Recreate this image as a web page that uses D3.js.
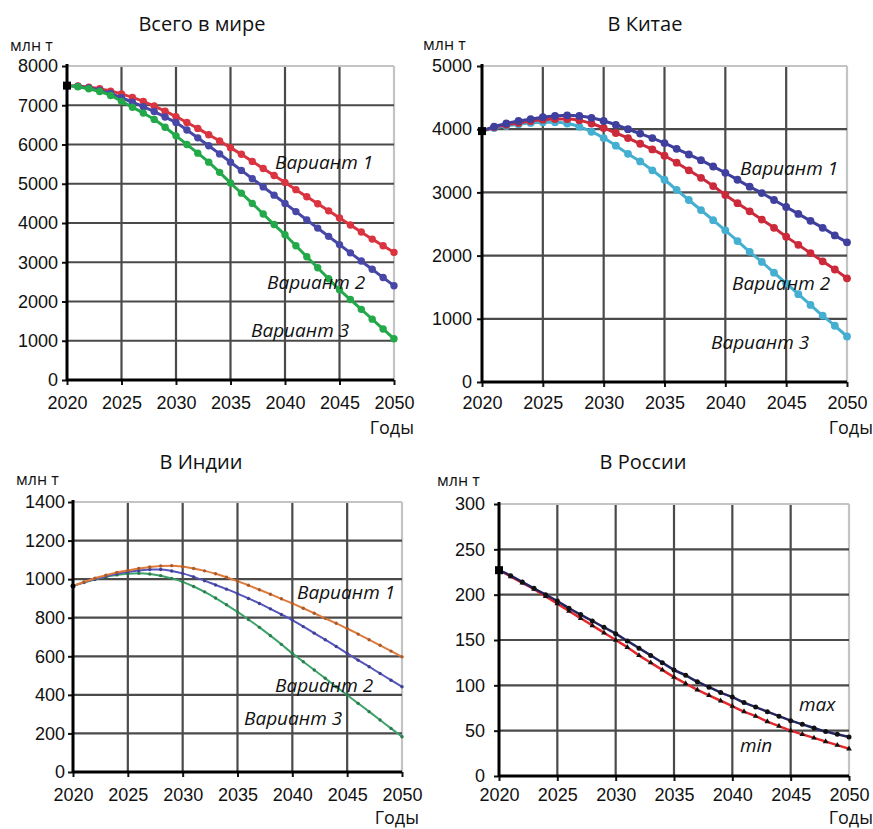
<!DOCTYPE html>
<html>
<head>
<meta charset="utf-8">
<script src="https://cdn.jsdelivr.net/npm/d3@7"></script>
<style>
  body { margin: 0; background: #fff; }
  svg { display: block; font-family: "Open Sans", "Noto Sans", sans-serif; }
  .tick text { font-size: 18px; fill: #111; }
</style>
</head>
<body>
<svg id="chart" width="873" height="829"></svg>
<script>
// years shared by every panel
const years = d3.range(2020, 2051);
const yearTicks = [2020, 2025, 2030, 2035, 2040, 2045, 2050];

// Всего в мире
const worldV1 = [7500, 7490, 7460, 7420, 7360, 7290, 7200, 7100, 6980, 6850, 6710, 6560, 6410, 6250, 6090, 5920, 5750, 5570, 5390, 5210, 5030, 4850, 4670, 4490, 4310, 4130, 3950, 3770, 3590, 3420, 3250];
const worldV2 = [7500, 7480, 7440, 7380, 7300, 7190, 7080, 6960, 6840, 6700, 6560, 6370, 6170, 5970, 5760, 5550, 5340, 5130, 4920, 4710, 4500, 4290, 4080, 3870, 3660, 3450, 3240, 3030, 2820, 2610, 2400];
const worldV3 = [7500, 7470, 7420, 7350, 7250, 7100, 6950, 6800, 6640, 6440, 6220, 6000, 5780, 5550, 5290, 5020, 4760, 4500, 4230, 3960, 3700, 3420, 3140, 2860, 2580, 2300, 2050, 1800, 1550, 1300, 1050];

// В Китае
const chinaV1 = [3970, 4040, 4090, 4130, 4160, 4190, 4210, 4220, 4210, 4180, 4130, 4070, 4000, 3930, 3860, 3780, 3690, 3600, 3510, 3410, 3310, 3200, 3090, 2990, 2880, 2770, 2660, 2550, 2440, 2320, 2210];
const chinaV2 = [3970, 4030, 4070, 4100, 4130, 4150, 4160, 4160, 4140, 4090, 4020, 3940, 3860, 3770, 3680, 3580, 3470, 3350, 3230, 3100, 2960, 2830, 2700, 2570, 2440, 2300, 2170, 2040, 1910, 1780, 1640];
const chinaV3 = [3970, 4020, 4050, 4080, 4100, 4110, 4110, 4090, 4040, 3960, 3860, 3740, 3610, 3490, 3350, 3200, 3040, 2880, 2720, 2560, 2400, 2230, 2060, 1900, 1730, 1560, 1390, 1220, 1050, 890, 720];

// В Индии
const indiaV1 = [965, 985, 1005, 1020, 1035, 1045, 1055, 1063, 1068, 1070, 1065, 1055, 1043, 1028, 1010, 990, 968, 945, 922, 898, 874, 849, 823, 797, 771, 744, 715, 686, 657, 627, 597];
const indiaV2 = [965, 983, 1000, 1015, 1028, 1038, 1045, 1050, 1050, 1042, 1030, 1012, 992, 970, 948, 925, 900, 874, 846, 817, 788, 754, 720, 686, 651, 615, 580, 546, 511, 476, 442];
const indiaV3 = [965, 982, 998, 1012, 1022, 1028, 1030, 1027, 1018, 1004, 986, 962, 934, 902, 867, 830, 791, 750, 707, 662, 615, 572, 529, 486, 442, 399, 356, 313, 270, 226, 183];

// В России
const russiaMax = [227, 221, 214, 207, 200, 193, 185, 178, 171, 164, 157, 149, 141, 133, 125, 117, 111, 104, 98, 92, 87, 81, 76, 71, 66, 61, 57, 53, 49, 46, 43];
const russiaMin = [227, 220, 213, 206, 198, 190, 182, 174, 166, 158, 150, 142, 133, 125, 117, 109, 102, 95, 89, 83, 77, 71, 66, 60, 55, 50, 46, 42, 38, 34, 30];

const worldTicks = d3.range(0, 8001, 1000);
const chinaTicks = d3.range(0, 5001, 1000);
const indiaTicks = d3.range(0, 1401, 200);
const russiaTicks = d3.range(0, 301, 50);

const panels = [
  {
    title: 'Всего в мире', titleX: 202, titleY: 31,
    unitX: 10, unitY: 51, yearsX: 414, yearsY: 434,
    box: [67, 394, 66, 380], yTicks: worldTicks, start: 'square',
    yPad: 4, yearBase: 409,
    series: [
      { values: worldV1, color: '#d9343f', label: 'Вариант 1', lx: 275, ly: 169 },
      { values: worldV2, color: '#4747a8', label: 'Вариант 2', lx: 267, ly: 289 },
      { values: worldV3, color: '#23a84a', label: 'Вариант 3', lx: 251, ly: 337 }
    ],
    width: 3, r: 3.7, marker: 'circle'
  },
  {
    title: 'В Китае', titleX: 645, titleY: 31,
    unitX: 423, unitY: 50, yearsX: 873, yearsY: 434,
    box: [482, 847, 66, 382], yTicks: chinaTicks, start: 'square',
    yPad: 5, yearBase: 409,
    series: [
      { values: chinaV3, color: '#45afd2', label: 'Вариант 3', lx: 711, ly: 349 },
      { values: chinaV2, color: '#cc2a3b', label: 'Вариант 2', lx: 732, ly: 290 },
      { values: chinaV1, color: '#3f3f9e', label: 'Вариант 1', lx: 740, ly: 175 }
    ],
    width: 3, r: 3.9, marker: 'circle'
  },
  {
    title: 'В Индии', titleX: 201, titleY: 469,
    unitX: 16, unitY: 485, yearsX: 419, yearsY: 824,
    box: [73, 402, 502, 772], yTicks: indiaTicks, start: 'dot',
    yPad: 3, yearBase: 801,
    series: [
      { values: indiaV3, color: '#3ea36a', label: 'Вариант 3', lx: 244, ly: 725 },
      { values: indiaV2, color: '#5555bd', label: 'Вариант 2', lx: 275, ly: 692 },
      { values: indiaV1, color: '#e07b3c', label: 'Вариант 1', lx: 297, ly: 599 }
    ],
    width: 2, r: 1.7, marker: 'circle', darkDots: true
  },
  {
    title: 'В России', titleX: 643, titleY: 469,
    unitX: 437, unitY: 486, yearsX: 873, yearsY: 824,
    box: [499, 849, 504, 776], yTicks: russiaTicks, start: 'square',
    yPad: 9, yearBase: 801,
    series: [
      { values: russiaMin, color: '#e3282e', label: 'min', lx: 740, ly: 752, marker: 'triangle' },
      { values: russiaMax, color: '#23235e', label: 'max', lx: 799, ly: 711, marker: 'circle' }
    ],
    width: 2.5, r: 2.5, marker: 'circle', markerColor: '#111'
  }
];

const svg = d3.select('#chart');

panels.forEach(p => {
  const [left, right, top, bottom] = p.box;
  const x = d3.scaleLinear().domain([2020, 2050]).range([left, right]);
  const y = d3.scaleLinear().domain([0, d3.max(p.yTicks)]).range([bottom, top]);
  const g = svg.append('g');

  // grid
  g.selectAll('line.vgrid')
    .data(yearTicks.slice(1))
    .enter().append('line')
    .attr('x1', d => x(d)).attr('x2', d => x(d))
    .attr('y1', top).attr('y2', bottom)
    .attr('stroke', d => d === 2050 ? '#c4c4c4' : '#4a4a4a')
    .attr('stroke-width', 2.2);
  g.selectAll('line.hgrid')
    .data(p.yTicks.slice(1))
    .enter().append('line')
    .attr('x1', left).attr('x2', right)
    .attr('y1', d => y(d)).attr('y2', d => y(d))
    .attr('stroke', (d, i, a) => i === a.length - 1 ? '#c4c4c4' : '#4a4a4a')
    .attr('stroke-width', 2.2);

  // axes
  const ax = g.append('g')
    .attr('transform', `translate(${left},0)`)
    .call(d3.axisLeft(y).tickValues(p.yTicks).tickSize(5).tickPadding(p.yPad).tickFormat(d3.format('d')));
  const bx = g.append('g')
    .attr('transform', `translate(0,${bottom})`)
    .call(d3.axisBottom(x).tickValues(yearTicks).tickSize(5).tickFormat(d3.format('d')));
  [ax, bx].forEach(a => {
    a.select('.domain').remove();
    a.selectAll('.tick line').attr('stroke', '#111').attr('stroke-width', 2);
  });
  bx.selectAll('.tick text').attr('y', p.yearBase - bottom).attr('dy', 0);
  g.append('line').attr('x1', left).attr('x2', left).attr('y1', top - 2).attr('y2', bottom + 1)
    .attr('stroke', '#000').attr('stroke-width', 3);
  g.append('line').attr('x1', left).attr('x2', right).attr('y1', bottom).attr('y2', bottom)
    .attr('stroke', '#000').attr('stroke-width', 3);

  // series
  const line = d3.line().x((d, i) => x(years[i])).y(d => y(d)).curve(d3.curveMonotoneX);
  p.series.forEach(s => {
    g.append('path').attr('d', line(s.values))
      .attr('fill', 'none').attr('stroke', s.color).attr('stroke-width', p.width);
    const mk = s.marker || p.marker;
    const fill = p.markerColor || (p.darkDots ? d3.color(s.color).darker(0.8) : s.color);
    const pts = s.values.slice(1);
    if (mk === 'triangle') {
      g.selectAll(null).data(pts).enter().append('path')
        .attr('d', d3.symbol(d3.symbolTriangle, 14))
        .attr('transform', (d, i) => `translate(${x(years[i + 1])},${y(d)})`)
        .attr('fill', fill);
    } else {
      g.selectAll(null).data(pts).enter().append('circle')
        .attr('cx', (d, i) => x(years[i + 1])).attr('cy', d => y(d))
        .attr('r', p.r).attr('fill', fill);
    }
  });

  // start point
  const v0 = p.series[0].values[0];
  if (p.start === 'square') {
    g.append('rect').attr('x', x(2020) - 4).attr('y', y(v0) - 4)
      .attr('width', 8).attr('height', 8).attr('fill', '#000');
  } else {
    g.append('circle').attr('cx', x(2020)).attr('cy', y(v0)).attr('r', 2.5).attr('fill', '#000');
  }

  // series labels
  p.series.forEach(s => {
    g.append('text').attr('x', s.lx).attr('y', s.ly)
      .attr('font-size', 19).attr('font-style', 'italic').attr('fill', '#111')
      .text(s.label);
  });

  // titles
  g.append('text').attr('x', p.titleX).attr('y', p.titleY)
    .attr('text-anchor', 'middle').attr('font-size', 20).attr('fill', '#111').text(p.title);
  g.append('text').attr('x', p.unitX).attr('y', p.unitY)
    .attr('font-size', 16).attr('fill', '#111').text('млн т');
  g.append('text').attr('x', p.yearsX).attr('y', p.yearsY)
    .attr('text-anchor', 'end').attr('font-size', 18).attr('fill', '#111').text('Годы');
});
</script>
</body>
</html>
